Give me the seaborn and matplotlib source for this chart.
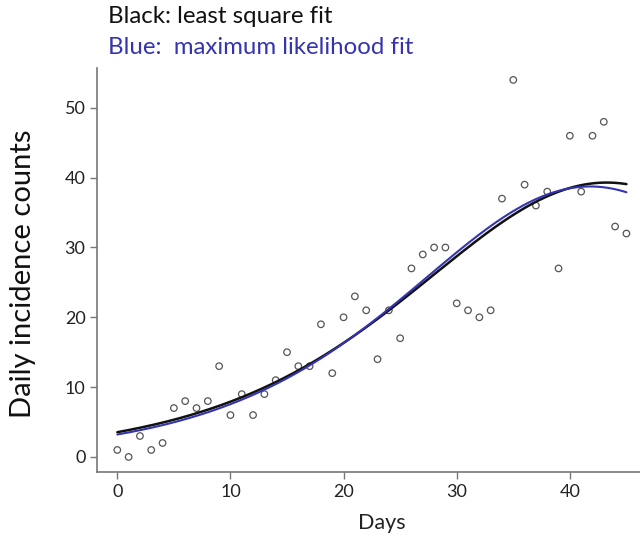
import numpy as np
import pandas as pd
import seaborn as sns
import matplotlib
matplotlib.use("Agg")
import matplotlib.pyplot as plt

# Daily case counts
days = list(range(46))
counts = [1, 0, 3, 1, 2, 7, 8, 7, 8, 13,
          6, 9, 6, 9, 11, 15, 13, 13, 19, 12,
          20, 23, 21, 14, 21, 17, 27, 29, 30, 30,
          22, 21, 20, 21, 37, 54, 39, 36, 38, 27,
          46, 38, 46, 48, 33, 32]

xticks = [0, 10, 20, 30, 40]
yticks = [0, 10, 20, 30, 40, 50]

title_ls = "Black: least square fit"
title_ml = "Blue:  maximum likelihood fit"

df = pd.DataFrame({"day": days, "count": counts})
t = np.asarray(days, dtype=float)
y = np.asarray(counts, dtype=float)


def nelder_mead(f, x0, step=0.1, iters=40000, tol=1e-14):
    n = len(x0)
    pts = [np.array(x0, float)] + [np.array(x0, float) + step * e for e in np.eye(n)]
    vals = [f(p) for p in pts]
    for _ in range(iters):
        order = np.argsort(vals)
        pts = [pts[i] for i in order]
        vals = [vals[i] for i in order]
        if abs(vals[-1] - vals[0]) < tol:
            break
        c = np.mean(pts[:-1], axis=0)
        xr = c + (c - pts[-1]); fr = f(xr)
        if fr < vals[0]:
            xe = c + 2 * (c - pts[-1]); fe = f(xe)
            if fe < fr:
                pts[-1], vals[-1] = xe, fe
            else:
                pts[-1], vals[-1] = xr, fr
        elif fr < vals[-2]:
            pts[-1], vals[-1] = xr, fr
        else:
            xc = c + 0.5 * (pts[-1] - c); fc = f(xc)
            if fc < vals[-1]:
                pts[-1], vals[-1] = xc, fc
            else:
                for i in range(1, n + 1):
                    pts[i] = pts[0] + 0.5 * (pts[i] - pts[0])
                    vals[i] = f(pts[i])
    return pts[int(np.argmin(vals))]


def incidence(p, tt):
    """Logistic growth model: daily incidence = derivative of cumulative curve."""
    K, r, tp = np.exp(p[0]), np.exp(p[1]), p[2]
    e = np.exp(-r * (tt - tp))
    return K * r * e / (1 + e) ** 2


def sse(p):
    return np.sum((y - incidence(p, t)) ** 2)


def poisson_nll(p):
    mu = np.maximum(incidence(p, t), 1e-9)
    return np.sum(mu - y * np.log(mu))


# starting values: final size, growth rate, peak day
p0 = np.array([np.log(y.sum() * 2.0), np.log(0.1), t.max()])
p_ls = nelder_mead(sse, p0)
p_ls = nelder_mead(sse, p_ls)
p_ml = nelder_mead(poisson_nll, p_ls)
p_ml = nelder_mead(poisson_nll, p_ml)

tt = np.linspace(t.min(), t.max(), 400)
fit = pd.DataFrame({"day": tt,
                    "ls": incidence(p_ls, tt),
                    "ml": incidence(p_ml, tt)})

sns.set_style("ticks")
plt.rcParams["font.family"] = ["Lato", "DejaVu Sans"]

blue = "#3434b0"
fig = plt.figure(figsize=(6.4, 5.4), dpi=100)
ax = fig.add_axes([0.152, 0.126, 0.848, 0.748])

sns.scatterplot(data=df, x="day", y="count", ax=ax, marker="o",
                facecolor="none", edgecolor="#555555", linewidth=0.9, s=22)
sns.lineplot(data=fit, x="day", y="ls", ax=ax, color="#111111", linewidth=1.8)
sns.lineplot(data=fit, x="day", y="ml", ax=ax, color=blue, linewidth=1.5)

ax.set_xlim(-1.77, 46.2)
ax.set_ylim(-2.15, 55.7)
ax.set_xticks(xticks)
ax.set_yticks(yticks)
ax.tick_params(axis="both", labelsize=13, colors="#222222", length=5, width=1,
               color="#777777")
for side in ["top", "right"]:
    ax.spines[side].set_visible(False)
for side in ["left", "bottom"]:
    ax.spines[side].set_color("#777777")
    ax.spines[side].set_linewidth(1.2)

ax.set_xlabel("Days", fontsize=15.5, color="#222222")
ax.xaxis.set_label_coords(0.525, -0.102)
ax.set_ylabel("Daily incidence counts", fontsize=21, color="#111111")
ax.yaxis.set_label_coords(-0.112, 0.49)

fig.text(0.169, 0.970, title_ls, fontsize=17.3, color="#111111",
         va="center", ha="left")
fig.text(0.169, 0.912, title_ml, fontsize=17.3, color=blue,
         va="center", ha="left")

fig.savefig("out.png", dpi=100)
